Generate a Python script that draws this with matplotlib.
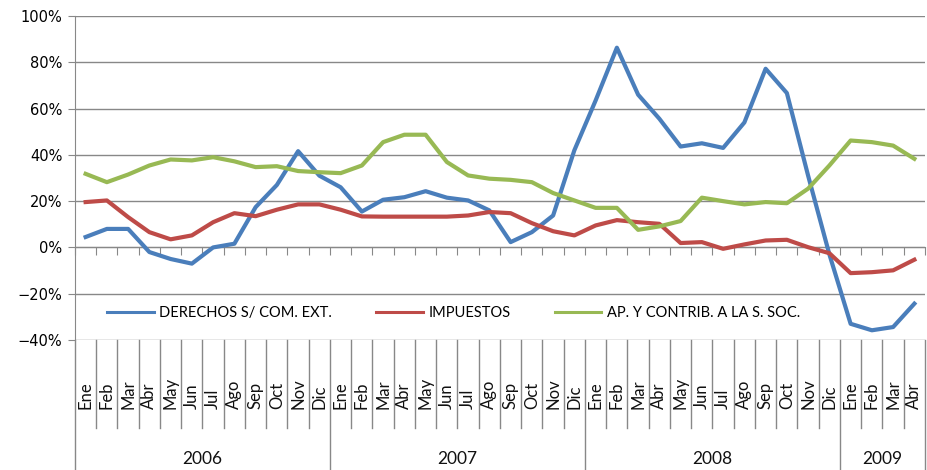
import numpy as np
import matplotlib.pyplot as plt
from matplotlib.lines import Line2D
from matplotlib.ticker import FixedLocator, PercentFormatter

# monthly year-on-year variation (%), Jan 2006 - Apr 2009
months = ["Ene", "Feb", "Mar", "Abr", "May", "Jun",
          "Jul", "Ago", "Sep", "Oct", "Nov", "Dic"]
years = ["2006", "2007", "2008", "2009"]
year_lengths = [12, 12, 12, 4]
month_labels = months * 3 + months[:4]

derechos = [4.5, 8, 8, -2, -5, -7, 0, 1.6, 17.4, 27, 41.6, 31,
            26, 15.5, 20.6, 21.7, 24.3, 21.5, 20.3, 16, 2.3, 6.6, 13.8, 42,
            63.5, 86.3, 66, 55.6, 43.6, 45, 43, 54, 77.2, 66.7, 31, -3,
            -33, -35.8, -34.4, -24.3]
impuestos = [19.6, 20.3, 13.1, 6.6, 3.5, 5.2, 10.9, 14.8, 13.5, 16.3, 18.6, 18.6,
             16.3, 13.4, 13.3, 13.3, 13.3, 13.3, 13.8, 15.3, 14.8, 10.5, 7, 5.2,
             9.5, 11.8, 10.9, 10.2, 1.9, 2.3, -0.6, 1.3, 3, 3.3, 0.1, -2.5,
             -11.1, -10.7, -9.9, -5.3]
aportes = [31.8, 28.2, 31.5, 35.4, 38, 37.6, 39, 37.2, 34.7, 35.1, 33, 32.5,
           32.1, 35.4, 45.5, 48.7, 48.7, 36.9, 31.1, 29.7, 29.2, 28.2, 23.5, 20.3,
           17.1, 17.1, 7.6, 9.1, 11.4, 21.5, 20, 18.6, 19.6, 19.1, 25.4, 35.4,
           46.2, 45.5, 44, 38.3]
series_names = ["DERECHOS S/ COM. EXT.", "IMPUESTOS", "AP. Y CONTRIB. A LA S. SOC."]
colors = ["#4A7EBB", "#BE4B48", "#98B954"]

GRID = "#888888"
W, H = 928, 470

fig = plt.figure(figsize=(W / 100, H / 100), dpi=100)
left, right, top, bottom = 75, 925, 16, 340
ax = fig.add_axes([left / W, (H - bottom) / H, (right - left) / W, (bottom - top) / H])

x = np.arange(len(month_labels))
for vals, name, c in zip([derechos, impuestos, aportes], series_names, colors):
    ax.plot(x, vals, color=c, lw=3.0, solid_joinstyle="round", label=name, zorder=3)

ax.set_xlim(-0.5, len(x) - 0.5)
ax.set_ylim(-40, 100)
ax.set_yticks(np.arange(-40, 101, 20))
ax.yaxis.set_major_formatter(PercentFormatter(decimals=0))
ax.grid(axis="y", color=GRID, lw=1.0)
ax.set_axisbelow(True)

for s in ["top", "right"]:
    ax.spines[s].set_visible(False)
ax.spines["left"].set_color(GRID)
ax.spines["bottom"].set_position(("data", 0))
ax.spines["bottom"].set_color(GRID)

ax.tick_params(axis="y", length=5, color=GRID, pad=4, labelsize=10.5)
for t in ax.get_yticklabels():
    t.set_family(["Liberation Sans Narrow", "DejaVu Sans"])

# tick marks at month boundaries on the zero line
bounds = np.arange(-0.5, len(x), 1.0)
ax.xaxis.set_major_locator(FixedLocator(bounds))
ax.tick_params(axis="x", length=6, color=GRID, labelbottom=False)

# category table under the plot
px = (bottom - top)  # axes height in pixels
trans = ax.get_xaxis_transform()
for i, lab in enumerate(month_labels):
    ax.text(i, -(409 - bottom) / px, lab, transform=trans, rotation=90,
            ha="center", va="bottom", fontsize=12, family="Lato",
            color="#111111", clip_on=False)

year_bounds = np.concatenate([[0], np.cumsum(year_lengths)]) - 0.5
for b in bounds:
    y_end = -(H - bottom) / px if b in year_bounds else -(428 - bottom) / px
    ax.add_line(Line2D([b, b], [0, y_end], transform=trans, color=GRID,
                       lw=1.0, clip_on=False))
for yr, a, b in zip(years, year_bounds[:-1], year_bounds[1:]):
    ax.text((a + b) / 2, -(451 - bottom) / px, yr, transform=trans,
            ha="center", va="top", fontsize=12.5, family="Lato",
            color="#111111", clip_on=False)

handles = [Line2D([], [], color=c, lw=2.2) for c in colors]
leg = ax.legend(handles, series_names, loc="center left", ncol=3,
                bbox_to_anchor=((107 - left) / (right - left), (bottom - 313) / px),
                frameon=False, borderpad=0, borderaxespad=0,
                handlelength=3.2, handletextpad=0.4, columnspacing=3.0,
                prop={"family": "Lato", "size": 10.5})

fig.savefig("out.png", dpi=100)
